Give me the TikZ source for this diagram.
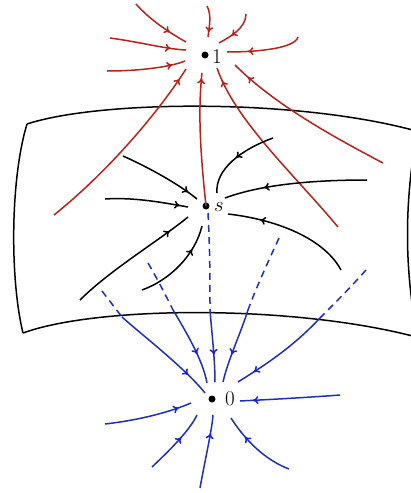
\documentclass[tikz,border=0pt]{standalone}
\usetikzlibrary{decorations.markings,arrows.meta}
\definecolor{fred}{RGB}{178,36,28}
\definecolor{fblue}{RGB}{32,48,178}
\definecolor{fblueA}{RGB}{20,30,230}
\tikzset{
  arrowat/.style={postaction={decorate}, decoration={markings, mark=at position #1 with {\arrow{To[length=5.5pt,width=8pt]}}}},
  redl/.style={draw=fred, line width=1.5pt},
  blkl/.style={draw=black, line width=1.5pt},
  blul/.style={draw=fblue, line width=1.5pt},
  bluarr/.style={postaction={decorate}, decoration={markings, mark=at position #1 with {\arrow[fblueA]{To[length=5.5pt,width=8pt]}}}},
  bdash/.style={draw=fblue, line width=1.5pt, dash pattern=on 7pt off 5pt},
  surf/.style={draw=black, line width=1.5pt},
  pt/.style={circle, fill=black, inner sep=0pt, minimum size=7pt},
  lab/.style={font=\fontsize{21}{25}\selectfont, inner sep=0pt}
}
\begin{document}
\begin{tikzpicture}[x=1pt,y=-1pt]
\useasboundingbox (0,0) rectangle (411,493);
\clip (0,0) rectangle (411,493);
% surface
\draw[surf] (27,124) .. controls (100,100) and (300,98) .. (420,132);
\draw[surf] (27,124) .. controls (10,180) and (10,280) .. (23,333);
\draw[surf] (23,333) .. controls (100,305) and (300,305) .. (420,338);
\draw[surf] (418,128) .. controls (404,200) and (404,270) .. (418,338);
% points
\node[pt] (p1) at (205,55) {};
\node[lab] (l1) at (217,57) {1};
\node[pt] (ps) at (206,206) {};
\node[lab] (ls) at (219,207) {$s$};
\node[pt] (p0) at (212,399) {};
\node[lab] (l0) at (230,399) {0};
% red curves
\draw[redl, arrowat=0.7] (136,4) .. controls (150,20) and (170,33) .. (186,42);
\draw[redl, arrowat=0.85] (207,6) .. controls (212,15) and (209,28) .. (208,37);
\draw[redl, arrowat=0.65] (246,14) .. controls (246,28) and (230,37) .. (219,43);
\draw[redl, arrowat=0.8] (110,38) .. controls (140,42) and (165,49) .. (186,50);
\draw[redl, arrowat=0.83] (107,71) .. controls (140,71) and (170,67) .. (185,61);
\draw[redl, arrowat=0.72] (298,37) .. controls (295,48) and (260,52) .. (227,52);
\draw[redl, arrowat=0.94] (54,215) .. controls (110,170) and (160,110) .. (186,69);
\draw[redl, arrowat=0.96] (206,206) .. controls (200,150) and (198,110) .. (202,73);
\draw[redl, arrowat=0.93] (338,227) .. controls (290,170) and (235,120) .. (217,68);
\draw[redl, arrowat=0.9] (383,163) .. controls (320,130) and (270,100) .. (235,65);
% black curves
\draw[blkl, arrowat=0.87] (123,156) .. controls (150,168) and (180,185) .. (197,199);
\draw[blkl, arrowat=0.9] (105,199) .. controls (135,197) and (165,203) .. (188,207);
\draw[blkl, arrowat=0.5] (273,138) .. controls (240,150) and (215,170) .. (217,193);
\draw[blkl, arrowat=0.72] (367,180) .. controls (310,180) and (260,185) .. (225,198);
\draw[blkl, arrowat=0.75] (341,270) .. controls (325,240) and (280,220) .. (228,214);
\draw[blkl, arrowat=0.83] (80,300) .. controls (110,270) and (160,240) .. (188,217);
\draw[blkl, arrowat=0.72] (142,290) .. controls (170,280) and (195,255) .. (202,226);
% blue dashed parts
\draw[bdash] (102,291) -- (122,317);
\draw[bdash] (148,263) .. controls (158,280) and (166,296) .. (173,310);
\draw[bdash] (208,213) .. controls (210,250) and (210,280) .. (210,310);
\draw[bdash] (279,238) .. controls (268,262) and (256,288) .. (248,310);
\draw[bdash] (366,270) .. controls (350,288) and (335,303) .. (320,318);
% blue solid parts
\draw[blul, bluarr=0.78] (122,317) .. controls (142,335) and (185,368) .. (205,393);
\draw[blul, bluarr=0.62] (173,310) .. controls (185,330) and (203,360) .. (207,383);
\draw[blul, bluarr=0.62] (210,310) .. controls (212,335) and (215,360) .. (215,382);
\draw[blul, bluarr=0.62] (248,310) .. controls (240,335) and (228,360) .. (223,382);
\draw[blul, bluarr=0.82] (320,318) .. controls (290,350) and (260,368) .. (238,382);
\draw[blul, bluarr=0.87] (340,395) .. controls (300,398) and (260,400) .. (240,401);
\draw[blul, bluarr=0.85] (105,424) .. controls (140,420) and (170,412) .. (191,403);
\draw[blul, bluarr=0.6] (152,467) .. controls (170,450) and (190,430) .. (197,415);
\draw[blul, bluarr=0.75] (200,488) .. controls (205,460) and (212,430) .. (213,415);
\draw[blul, bluarr=0.7] (289,469) .. controls (265,460) and (245,440) .. (231,418);
\end{tikzpicture}
\end{document}
